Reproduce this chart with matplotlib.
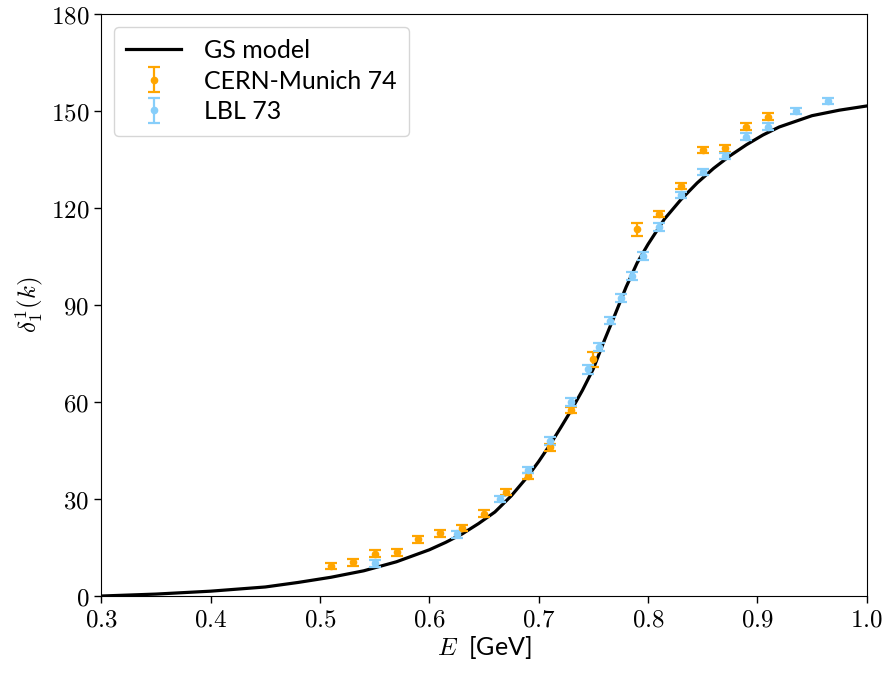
import matplotlib
matplotlib.use('Agg')
import matplotlib.pyplot as plt

plt.rcParams['mathtext.fontset'] = 'cm'
plt.rcParams['font.family'] = ['Lato', 'DejaVu Sans']

# GS model curve
gs_E = [0.30, 0.35, 0.40, 0.45, 0.48, 0.51, 0.54, 0.57, 0.60, 0.615,
        0.63, 0.645, 0.66, 0.675, 0.69, 0.70, 0.71, 0.72, 0.73, 0.74,
        0.75, 0.76, 0.77, 0.78, 0.79, 0.80, 0.815, 0.83, 0.845, 0.86,
        0.875, 0.89, 0.905, 0.92, 0.95, 0.975, 1.00]
gs_delta = [0.0, 0.6, 1.5, 2.8, 4.2, 5.8, 7.8, 10.6, 14.3, 16.6,
            19.2, 22.4, 26.0, 31.0, 37.0, 41.6, 46.6, 52.0, 57.6, 63.6,
            70.3, 79.0, 87.2, 95.6, 103.0, 108.8, 116.6, 122.6, 127.8, 132.3,
            136.2, 139.6, 142.6, 145.1, 148.6, 150.3, 151.6]

# CERN-Munich 74
cm_E = [0.51, 0.53, 0.55, 0.57, 0.59, 0.61, 0.63, 0.65, 0.67, 0.69,
        0.71, 0.73, 0.75, 0.79, 0.81, 0.83, 0.85, 0.87, 0.89, 0.91]
cm_delta = [9.3, 10.4, 13.1, 13.5, 17.5, 19.4, 21.0, 25.5, 32.1, 37.2,
            46.0, 57.5, 73.2, 113.4, 118.1, 126.8, 137.9, 138.5, 145.2, 148.3]
cm_err = [1.0, 1.0, 1.0, 1.0, 1.0, 1.0, 1.0, 1.0, 1.0, 1.0,
          1.0, 1.0, 2.3, 1.9, 1.0, 1.0, 1.0, 1.0, 1.0, 1.0]

# LBL 73
lbl_E = [0.55, 0.625, 0.665, 0.69, 0.71, 0.73, 0.745, 0.755, 0.765, 0.775,
         0.785, 0.795, 0.81, 0.83, 0.85, 0.87, 0.89, 0.91, 0.935, 0.965]
lbl_delta = [10.1, 19.1, 30.0, 39.0, 47.9, 60.1, 70.1, 77.1, 85.2, 92.1,
             99.1, 105.2, 114.2, 124.0, 131.1, 136.1, 142.1, 145.2, 150.1, 153.1]
lbl_err = [1.0, 1.0, 1.0, 1.0, 1.2, 1.2, 1.3, 1.2, 1.2, 1.2,
           1.2, 1.2, 1.2, 1.0, 1.0, 1.0, 1.0, 1.0, 1.0, 1.0]

x_ticks = [0.3, 0.4, 0.5, 0.6, 0.7, 0.8, 0.9, 1.0]
y_ticks = [0, 30, 60, 90, 120, 150, 180]

fig = plt.figure(figsize=(8.86, 6.75), dpi=100)
ax = fig.add_axes([0.1143, 0.117, 0.8639, 0.862])

ax.plot(gs_E, gs_delta, color='black', lw=2.3, label='GS model',
        solid_joinstyle='round')
ax.errorbar(cm_E, cm_delta, yerr=cm_err, fmt='o', color='orange', ms=4.5,
            elinewidth=1.6, capsize=4.3, capthick=1.6, label='CERN-Munich 74')
ax.errorbar(lbl_E, lbl_delta, yerr=lbl_err, fmt='o', color='lightskyblue', ms=4.5,
            elinewidth=1.6, capsize=4.3, capthick=1.6, label='LBL 73')

ax.set_xlim(0.3, 1.0)
ax.set_ylim(0, 180)
ax.set_xticks(x_ticks)
ax.set_xticklabels([f'${t:.1f}$' for t in x_ticks])
ax.set_yticks(y_ticks)
ax.set_yticklabels([f'${t}$' for t in y_ticks])
ax.tick_params(labelsize=18, width=1.0, length=5)

ax.set_xlabel(r'$E$  [GeV]', fontsize=18, labelpad=2)
ax.set_ylabel(r'$\delta_1^1(k)$', fontsize=18, labelpad=4)

ax.legend(loc='upper left', fontsize=18, handlelength=2.2, borderpad=0.5,
          labelspacing=0.3, handletextpad=0.9)

fig.savefig('out.png', dpi=100)
